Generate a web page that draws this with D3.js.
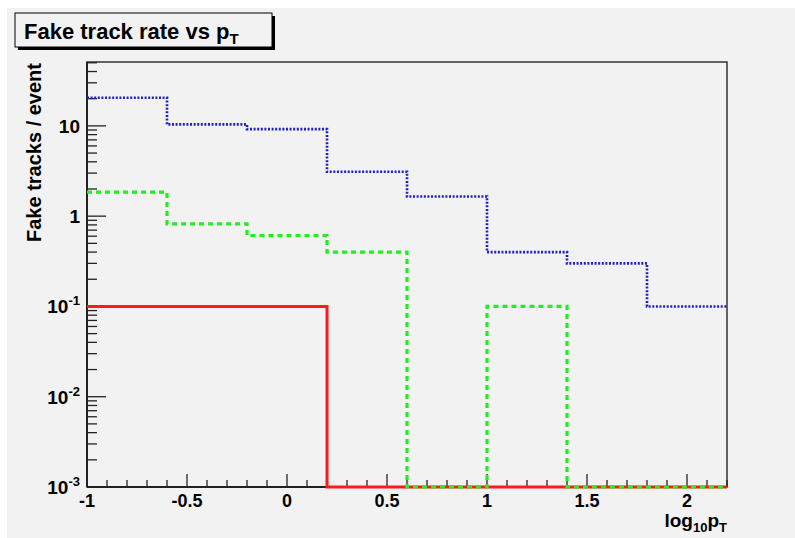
<!DOCTYPE html>
<html>
<head>
<meta charset="utf-8">
<script src="https://cdn.jsdelivr.net/npm/d3@7"></script>
<style>
  body { margin: 0; background: #fff; }
  text { font-family: "Liberation Sans", Arial, sans-serif; font-weight: bold; }
</style>
</head>
<body>
<script>
// Fake track rate vs pT, three histograms on a log y axis

const binEdges = [-1, -0.6, -0.2, 0.2, 0.6, 1.0, 1.4, 1.8, 2.2];
const blueRate = [20.5, 10.4, 9.2, 3.1, 1.65, 0.4, 0.3, 0.1];
const greenRate = [1.85, 0.82, 0.61, 0.4, 0, 0.1, 0, 0];
const redRate = [0.1, 0.1, 0.1, 0, 0, 0, 0, 0];
const xTickLabels = [-1, -0.5, 0, 0.5, 1, 1.5, 2];
const yDecades = [-3, -2, -1, 0, 1];

const width = 795, height = 538;
const frame = {left: 87, right: 727, top: 62, bottom: 487};

const svg = d3.select("body").append("svg")
    .attr("width", width)
    .attr("height", height);

// pad background, white strip on top / left like the screenshot
svg.append("rect").attr("x", 7).attr("y", 8)
    .attr("width", width - 7).attr("height", height - 8)
    .attr("fill", "#f2f2f2");

const x = d3.scaleLinear().domain([-1, 2.2]).range([frame.left, frame.right]);
const y = d3.scaleLog().domain([1e-3, 51]).range([frame.bottom, frame.top]);

// frame
svg.append("rect")
    .attr("x", frame.left).attr("y", frame.top)
    .attr("width", frame.right - frame.left).attr("height", frame.bottom - frame.top)
    .attr("fill", "none").attr("stroke", "#333").attr("stroke-width", 1.5);

// x ticks (inside, upward)
const xMinor = d3.range(-10, 23).map(d => d / 10);
svg.append("g").selectAll("line").data(xMinor).join("line")
    .attr("x1", d => x(d)).attr("x2", d => x(d))
    .attr("y1", frame.bottom)
    .attr("y2", d => Math.abs(d * 2 - Math.round(d * 2)) < 1e-6 ? frame.bottom - 13 : frame.bottom - 7)
    .attr("stroke", "#222").attr("stroke-width", 1.3);

svg.append("g").selectAll("text").data(xTickLabels).join("text")
    .attr("x", d => x(d)).attr("y", 507)
    .attr("text-anchor", "middle")
    .attr("font-size", 18)
    .text(d => d);

// y ticks
const yMinor = [];
yDecades.forEach(p => {
    for (let m = 1; m <= 9; m++) {
        const v = m * Math.pow(10, p);
        if (v <= 51) yMinor.push({v: v, major: m === 1});
    }
});
svg.append("g").selectAll("line").data(yMinor).join("line")
    .attr("x1", frame.left)
    .attr("x2", d => frame.left + (d.major ? 19 : 10))
    .attr("y1", d => y(d.v)).attr("y2", d => y(d.v))
    .attr("stroke", "#222").attr("stroke-width", 1.3);

const yLab = svg.append("g").selectAll("text").data(yDecades).join("text")
    .attr("x", 80).attr("y", d => y(Math.pow(10, d)) + 7)
    .attr("text-anchor", "end")
    .attr("font-size", 19);
yLab.each(function(p) {
    const t = d3.select(this);
    if (p === 0) t.text("1");
    else if (p === 1) t.text("10");
    else {
        t.append("tspan").text("10");
        t.append("tspan").attr("dy", -8).attr("font-size", 13).text(p);
    }
});

// axis lines
svg.append("line").attr("x1", frame.left).attr("x2", frame.left)
    .attr("y1", frame.top).attr("y2", frame.bottom)
    .attr("stroke", "#222").attr("stroke-width", 2);
svg.append("line").attr("x1", frame.left).attr("x2", frame.right)
    .attr("y1", frame.bottom).attr("y2", frame.bottom)
    .attr("stroke", "#222").attr("stroke-width", 2);

// histograms
const floorVal = 1e-3;
function stepPoints(vals) {
    const pts = vals.map((v, i) => [binEdges[i], Math.max(v, floorVal)]);
    pts.push([binEdges[binEdges.length - 1], Math.max(vals[vals.length - 1], floorVal)]);
    return pts;
}
const line = d3.line()
    .x(d => x(d[0]))
    .y(d => y(d[1]))
    .curve(d3.curveStepAfter);

const series = [
    {vals: redRate, color: "#ff1a1a", width: 3, dash: null},
    {vals: greenRate, color: "#22ee22", width: 3.2, dash: "5,4"},
    {vals: blueRate, color: "#2020c8", width: 2.6, dash: "2,1.6"}
];
svg.append("g").selectAll("path").data(series).join("path")
    .attr("d", d => line(stepPoints(d.vals)))
    .attr("fill", "none")
    .attr("stroke", d => d.color)
    .attr("stroke-width", d => d.width)
    .attr("stroke-dasharray", d => d.dash);

// y title
svg.append("text")
    .attr("transform", "translate(41,63) rotate(-90)")
    .attr("text-anchor", "end")
    .attr("font-size", 20)
    .text("Fake tracks / event");

// x title
const xt = svg.append("text")
    .attr("x", 727).attr("y", 527)
    .attr("text-anchor", "end")
    .attr("font-size", 19);
xt.append("tspan").text("log");
xt.append("tspan").attr("dy", 5).attr("font-size", 13).text("10");
xt.append("tspan").attr("dy", -5).text("p");
xt.append("tspan").attr("dy", 5).attr("font-size", 13).text("T");

// title box with shadow
svg.append("rect").attr("x", 18).attr("y", 16).attr("width", 257).attr("height", 34).attr("fill", "#000");
svg.append("rect").attr("x", 15).attr("y", 13).attr("width", 257).attr("height", 34)
    .attr("fill", "#f2f2f2").attr("stroke", "#000").attr("stroke-width", 1);
const title = svg.append("text")
    .attr("x", 24).attr("y", 39)
    .attr("font-size", 22);
title.append("tspan").text("Fake track rate vs p");
title.append("tspan").attr("dy", 5).attr("font-size", 15).text("T");
</script>
</body>
</html>
